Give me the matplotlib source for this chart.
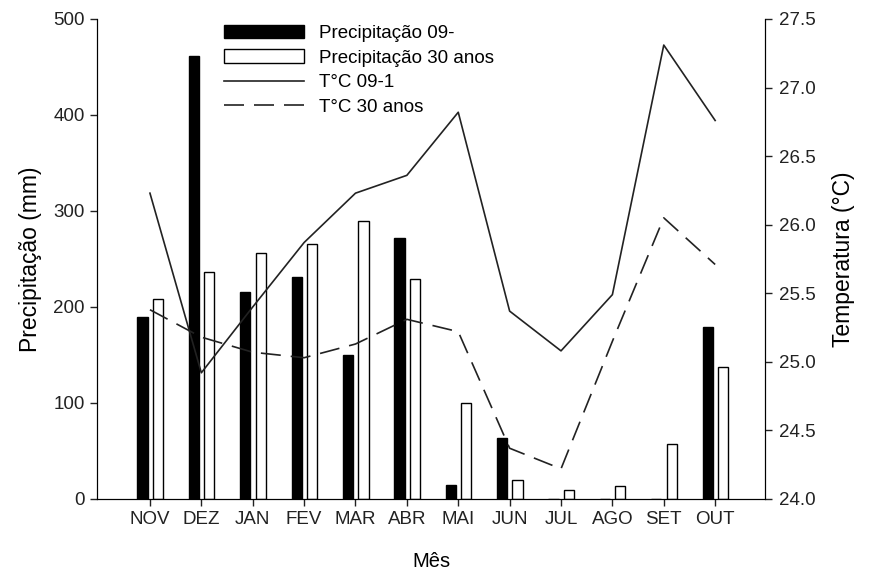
import numpy as np
import matplotlib
matplotlib.use('Agg')
import matplotlib.pyplot as plt
from matplotlib.ticker import FormatStrFormatter

plt.rcParams['font.family'] = ['Liberation Sans', 'DejaVu Sans']

# DADOS
meses = ['NOV', 'DEZ', 'JAN', 'FEV', 'MAR', 'ABR', 'MAI', 'JUN', 'JUL', 'AGO', 'SET', 'OUT']
# Precipitação (mm)
prec_0910 = [190, 461, 216, 231, 150, 272, 15, 64, 0, 0, 0, 179]
prec_30 = [208, 236, 256, 266, 290, 229, 100, 20, 9, 13, 57, 137]
# Temperatura (°C)
temp_0910 = [26.23, 24.92, 25.40, 25.87, 26.23, 26.36, 26.82, 25.37, 25.08, 25.49, 27.31, 26.76]
temp_30 = [25.38, 25.18, 25.07, 25.03, 25.13, 25.31, 25.22, 24.37, 24.22, 25.15, 26.05, 25.71]

x = np.arange(len(meses))
largura = 0.2
fs_tick = 13.5
fs_ylab = 16.5
fs_xlab = 14.5

fig = plt.figure(figsize=(8.71, 5.74), dpi=100)
ax = fig.add_axes([0.1114, 0.1307, 0.7669, 0.8362])

b1 = ax.bar(x - 0.145, prec_0910, largura, color='black', edgecolor='black',
            linewidth=1.0, label='Precipitação 09-')
b2 = ax.bar(x + 0.155, prec_30, largura, color='white', edgecolor='black',
            linewidth=1.0, label='Precipitação 30 anos')

ax.set_xlim(-1.03, 11.97)
ax.set_ylim(0, 500)
ax.set_yticks(np.arange(0, 501, 100))
ax.set_xticks(x)
ax.set_xticklabels(meses)
ax.set_xlabel('Mês', fontsize=fs_xlab, labelpad=17)
ax.set_ylabel('Precipitação (mm)', fontsize=fs_ylab, labelpad=8)
ax.tick_params(direction='out', length=5, width=1, labelsize=fs_tick, pad=4,
               colors='#222222')
ax.spines['top'].set_visible(False)

ax2 = ax.twinx()
l1, = ax2.plot(x, temp_0910, color='#222222', linewidth=1.2, label='T°C 09-1')
l2, = ax2.plot(x, temp_30, color='#222222', linewidth=1.2, dashes=(12, 6),
               label='T°C 30 anos')
ax2.set_ylim(24.0, 27.5)
ax2.set_yticks(np.arange(24.0, 27.51, 0.5))
ax2.yaxis.set_major_formatter(FormatStrFormatter('%.1f'))
ax2.set_ylabel('Temperatura (°C)', fontsize=fs_ylab, labelpad=12)
ax2.tick_params(direction='out', length=5, width=1, labelsize=fs_tick, pad=5,
                colors='#222222')
ax2.spines['top'].set_visible(False)

ax.legend([b1, b2, l1, l2],
          ['Precipitação 09-', 'Precipitação 30 anos', 'T°C 09-1', 'T°C 30 anos'],
          loc='upper left', bbox_to_anchor=(0.19, 0.988), frameon=False,
          fontsize=fs_tick, handlelength=4.25, handletextpad=0.8,
          borderpad=0, borderaxespad=0, labelspacing=0.4)

fig.savefig('out.png', dpi=100)
